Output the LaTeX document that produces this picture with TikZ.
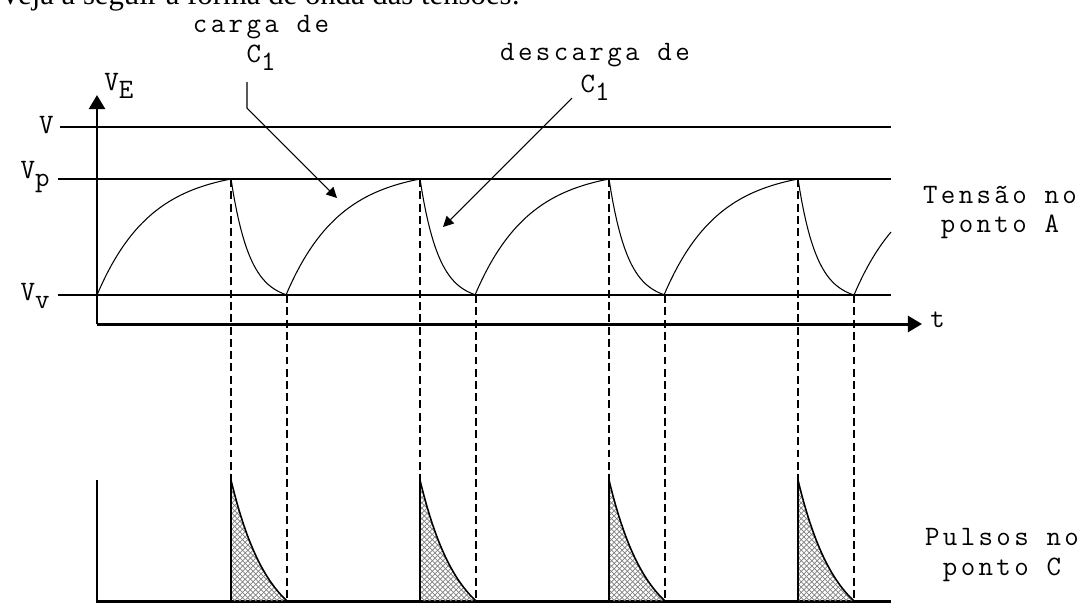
\documentclass[tikz,border=0pt]{standalone}
\usepackage{fontspec}
\usepackage{tikz}
\usetikzlibrary{arrows.meta, patterns}
\newfontfamily\courfont[LetterSpace=12]{Latin Modern Mono}
\newfontfamily\headfont{Liberation Serif}
\newcommand*{\lowsub}[1]{\raisebox{-0.3em}{#1}}

\begin{document}
\begin{tikzpicture}[
   x=0.02cm, y=-0.02cm,
   axis/.style={line width=1.7pt},
   level/.style={line width=0.7pt},
   wave/.style={line width=0.6pt},
   guide/.style={line width=0.9pt, dash pattern=on 4.5pt off 2.5pt},
   pulse/.style={pattern=crosshatch, pattern color=gray},
   lbl/.style={font=\courfont\fontsize{16}{18}\selectfont, inner sep=0},
   note/.style={lbl, anchor=base},
   pointer/.style={line width=0.6pt, -{Triangle[length=6pt,width=6pt]}}
  ]
  \useasboundingbox (0,0) rectangle (1085,603);

  % Times (charge, discharge), levels
  \pgfmathsetmacro{\tch}{134}
  \pgfmathsetmacro{\tdis}{56}

  \node[anchor=base west, inner sep=0, font=\headfont\fontsize{17.5}{20}\selectfont]
    (intro) at (-1,4) {Veja a seguir a forma de onda das tensões:};

  % Axes
  \coordinate (O) at (97,324);
  \coordinate (ytop) at (97,95);
  \coordinate (xend) at (922,324);
  \draw[axis, -{Triangle[length=8pt,width=9pt]}] (O) -- (ytop);
  \draw[axis, -{Triangle[length=8pt,width=9pt]}] (O) -- (xend);
  \draw[axis] (97,480) -- (97,601) -- (891,601);

  \node[lbl, anchor=base west] (vaxis) at (104,90) {V\lowsub{E}};
  \node[lbl, anchor=base west] (tlab) at (930,327) {t};
  \node[lbl, anchor=base east] (vlev) at (54,133) {V};
  \node[lbl, anchor=base east] (vpk) at (50,178) {V\lowsub{p}};
  \node[lbl, anchor=base east] (vval) at (50,300) {V\lowsub{v}};

  \draw[level] (60,127) -- (891,127);
  \draw[level] (58,179) -- (891,179);
  \draw[level] (58,295) -- (891,295);

  % Waveform and pulses
  \foreach \k in {0,1,2,3} {
    \pgfmathsetmacro{\pk}{231+189*\k}
    \draw[wave] plot[domain=0:1, samples=40, variable=\u]
      ({\pk-\tch+\tch*\u}, {295-116*(1-exp(-2.5*\u))/(1-exp(-2.5))});
    \draw[wave] plot[domain=0:1, samples=30, variable=\u]
      ({\pk+\tdis*\u}, {179+116*(1-exp(-3*\u))/(1-exp(-3))});
    \fill[pulse] (\pk,601) -- (\pk,480) -- plot[domain=0:1, samples=30, variable=\u]
      ({\pk+\tdis*\u}, {480+121*(1-exp(-1.5*\u))/(1-exp(-1.5))}) -- cycle;
    \draw[line width=0.9pt] (\pk,601) -- (\pk,480) -- plot[domain=0:1, samples=30, variable=\u]
      ({\pk+\tdis*\u}, {480+121*(1-exp(-1.5*\u))/(1-exp(-1.5))});
    \draw[guide] (\pk,179) -- (\pk,601);
    \draw[guide] (\pk+\tdis,295) -- (\pk+\tdis,601);
  }
  \draw[wave] plot[domain=0:0.276, samples=15, variable=\u]
    ({854+\tch*\u}, {295-116*(1-exp(-2.5*\u))/(1-exp(-2.5))});

  % Notes
  \node[note] (carga) at (261,32) {carga de};
  \node[note] (cargaC) at (261,62) {C\lowsub{1}};
  \node[note] (descarga) at (595,60) {descarga de};
  \node[note] (descargaC) at (595,92) {C\lowsub{1}};
  \node[note] (tensA) at (1000,203) {Tensão no};
  \node[note] (tensAb) at (1000,232) {ponto A};
  \node[note] (pulsC) at (1002,545) {Pulsos no};
  \node[note] (pulsCb) at (1002,575) {ponto C};

  \coordinate (cargafoot) at (247,82);
  \coordinate (cargabend) at (247,108);
  \coordinate (cargatip) at (337,198);
  \coordinate (descfoot) at (572,98);
  \coordinate (desctip) at (443,227);
  \draw[pointer] (cargafoot) -- (cargabend) -- (cargatip);
  \draw[pointer] (descfoot) -- (desctip);

\end{tikzpicture}
\end{document}
